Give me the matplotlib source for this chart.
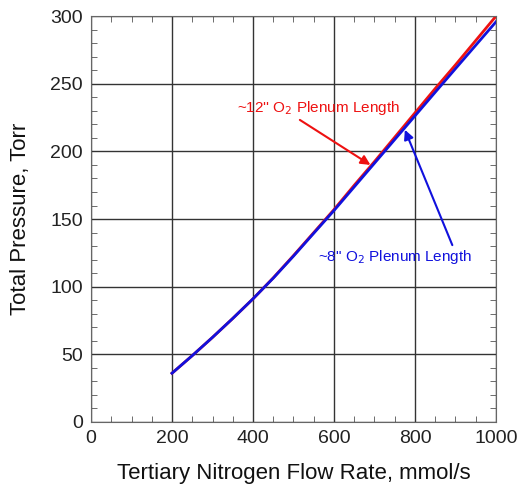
import matplotlib.pyplot as plt
from matplotlib.ticker import MultipleLocator

plt.rcParams['font.family'] = ['Liberation Sans', 'DejaVu Sans']

# flow rate, mmol/s
flow = [200, 250, 300, 350, 400, 450, 500, 550, 600, 650, 700, 750, 800, 850, 900, 950, 1000]
# total pressure, Torr
p_12in = [36, 49, 62.5, 76.5, 91, 106.5, 123, 140, 157, 175, 192.5, 210.5, 228.5, 246.5, 264, 282, 300]
p_8in = [36, 49, 62.5, 76.5, 91, 106.3, 122.6, 139.5, 156.3, 173.8, 191.3, 208.8, 226.3, 243.8, 261.2, 278.5, 295.8]

fig = plt.figure(figsize=(5.18, 4.90), dpi=100)
ax = fig.add_axes([0.1757, 0.139, 0.7818, 0.828])

ax.plot(flow, p_12in, color='#ee1111', lw=2)
ax.plot(flow, p_8in, color='#1111dd', lw=2)

ax.set_xlim(0, 1000)
ax.set_ylim(0, 300)
ax.xaxis.set_major_locator(MultipleLocator(200))
ax.xaxis.set_minor_locator(MultipleLocator(50))
ax.yaxis.set_major_locator(MultipleLocator(50))
ax.yaxis.set_minor_locator(MultipleLocator(10))
ax.tick_params(which='both', direction='in', top=True, right=True, colors='#555555',
               labelcolor='#222222', labelsize=14)
ax.tick_params(which='major', length=0, pad=6)
ax.tick_params(which='minor', length=4)
ax.grid(True, which='major', color='#333333', lw=1)
for s in ax.spines.values():
    s.set_color('#666666')

ax.set_xlabel('Tertiary Nitrogen Flow Rate, mmol/s', fontsize=16, color='#111111', labelpad=11)
ax.set_ylabel('Total Pressure, Torr', fontsize=16, color='#111111', labelpad=14)

ax.annotate("~12'' O$_2$ Plenum Length", xy=(690, 190), xytext=(360, 232),
            color='#ee1111', fontsize=11, va='center',
            arrowprops=dict(arrowstyle='-|>', color='#ee1111', lw=1.5,
                            shrinkA=0, shrinkB=0, mutation_scale=14,
                            relpos=(0.36, 0)))
ax.annotate('~8" O$_2$ Plenum Length', xy=(775, 216), xytext=(560, 122),
            color='#1111dd', fontsize=11, va='center',
            arrowprops=dict(arrowstyle='-|>', color='#1111dd', lw=1.5,
                            shrinkA=0, shrinkB=0, mutation_scale=14,
                            relpos=(0.88, 1)))

fig.savefig('out.png')
plt.close(fig)
